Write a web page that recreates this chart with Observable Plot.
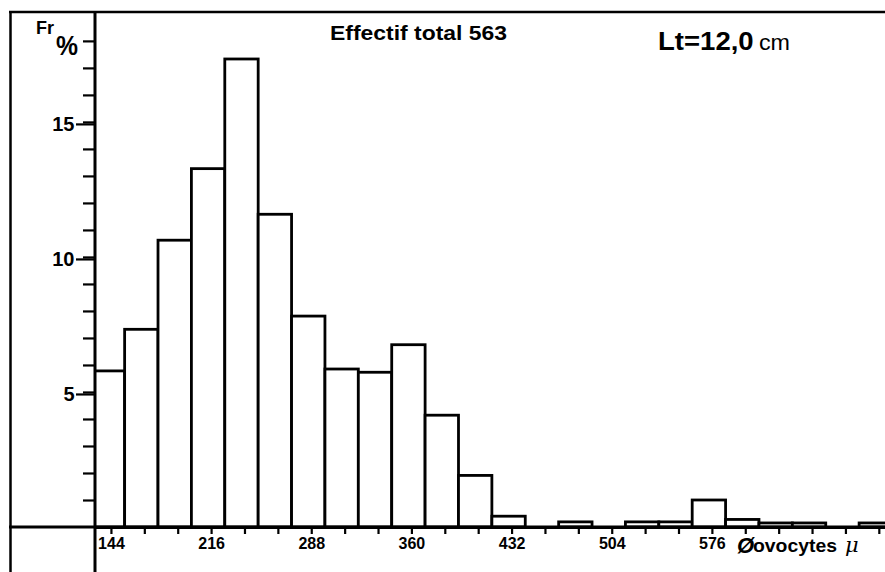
<!DOCTYPE html>
<html><head><meta charset="utf-8">
<script src="https://cdn.jsdelivr.net/npm/d3@7"></script>
<script src="https://cdn.jsdelivr.net/npm/@observablehq/plot@0.6"></script>
<style>body{margin:0;background:#fff} svg{display:block}</style>
</head><body><div id="chart"></div>
<script>
// ---- data ----
const binCenters = [144,168,192,216,240,264,288,312,336,360,384,408,432,480,528,552,576,600,624,648,696];
const frequencies = [5.78,7.32,10.62,13.27,17.33,11.58,7.81,5.85,5.73,6.75,4.14,1.91,0.40,0.19,0.19,0.19,1.00,0.28,0.15,0.15,0.15];
const binWidth = 24;
const xTicks = d3.range(144, 697, 24);
const xTickLabels = [144,216,288,360,432,504,576];
const yMinorTicks = d3.range(1, 19);
const yMajorTicks = [5,10,15];
const titleText = "Effectif total 563";
const lengthText = "Lt=12,0";
const lengthUnit = "cm";
const yTitleMain = "Fr";
const yTitleSub = "%";
const xTitleSymbol = "Ø";
const xTitleWord = "ovocytes";
const xTitleUnit = "μ";

const bars = binCenters.map((c, i) => ({x1: c - binWidth / 2, x2: c + binWidth / 2, y: frequencies[i]}));

const W = 885, H = 572, mL = 95, mR = 0, mT = 12, mB = 45;
const font = "'Liberation Sans', Arial, Helvetica, sans-serif";

const chart = Plot.plot({
  width: W, height: H,
  marginLeft: mL, marginRight: mR, marginTop: mT, marginBottom: mB,
  x: {domain: [134.7, 702.6]},
  y: {domain: [0, 19.07]},
  style: {fontFamily: font, color: "black", background: "white", overflow: "visible"},
  marks: [
    Plot.rectY(bars, {x1: "x1", x2: "x2", y: "y", fill: "white", stroke: "black", strokeWidth: 2.8, clip: true}),
    Plot.axisX({ticks: xTicks, tickSize: 7, tickPadding: 3, strokeWidth: 2.2,
      tickFormat: d => xTickLabels.includes(d) ? String(d) : "",
      fontSize: 16, fontWeight: "bold", dx: 3, label: null}),
    Plot.axisY({ticks: yMinorTicks, tickSize: 12, strokeWidth: 2.2, tickFormat: () => "", label: null}),
    Plot.axisY({ticks: yMajorTicks, tickSize: 19, tickPadding: 2, strokeWidth: 2.2,
      fontSize: 20, fontWeight: "bold", dy: 2, label: null}),
    Plot.ruleY([0], {stroke: "black", strokeWidth: 3})
  ]
});

document.getElementById("chart").appendChild(chart);

const svg = d3.select(chart);
const y0 = chart.scale("y").apply(0);
const deco = svg.append("g").attr("stroke", "black").attr("fill", "none");
// top frame line
deco.append("line").attr("x1", 9).attr("x2", W).attr("y1", mT).attr("y2", mT).attr("stroke-width", 2.4);
// outer left line
deco.append("line").attr("x1", 10.5).attr("x2", 10.5).attr("y1", mT).attr("y2", H).attr("stroke-width", 2.5);
// y axis line, extended below baseline
deco.append("line").attr("x1", mL).attr("x2", mL).attr("y1", mT).attr("y2", H).attr("stroke-width", 3);
// baseline extended to the outer frame
deco.append("line").attr("x1", 9).attr("x2", W).attr("y1", y0).attr("y2", y0).attr("stroke-width", 3);

const txt = svg.append("g").attr("fill", "black").attr("font-family", font).attr("text-anchor", "start");
// title
txt.append("text").attr("x", 330).attr("y", 39.5).attr("font-size", 20).attr("font-weight", "bold")
  .attr("textLength", 177).attr("lengthAdjust", "spacingAndGlyphs").text(titleText);
// Lt=12,0 cm
const lt = txt.append("text").attr("x", 658).attr("y", 49.5).attr("textLength", 132).attr("lengthAdjust", "spacingAndGlyphs");
lt.append("tspan").attr("font-size", 26).attr("font-weight", "bold").text(lengthText);
lt.append("tspan").attr("font-size", 22).attr("dx", 5).text(lengthUnit);
// Fr %
txt.append("text").attr("x", 36).attr("y", 34).attr("font-size", 18).attr("font-weight", "bold").text(yTitleMain);
txt.append("text").attr("x", 56).attr("y", 55).attr("font-size", 27).attr("font-weight", "bold")
  .attr("textLength", 22).attr("lengthAdjust", "spacingAndGlyphs").text(yTitleSub);
// Øovocytes μ
txt.append("text").attr("x", 737).attr("y", 553).attr("font-size", 22).attr("font-weight", "bold")
  .attr("font-style", "italic").text(xTitleSymbol);
txt.append("text").attr("x", 753).attr("y", 552).attr("font-size", 19).attr("font-weight", "bold")
  .attr("textLength", 84).attr("lengthAdjust", "spacingAndGlyphs").text(xTitleWord);
txt.append("text").attr("x", 845).attr("y", 552).attr("font-size", 21).attr("font-style", "italic")
  .attr("font-family", "'DejaVu Serif', 'Liberation Serif', serif").text(xTitleUnit);
</script>
</body></html>
